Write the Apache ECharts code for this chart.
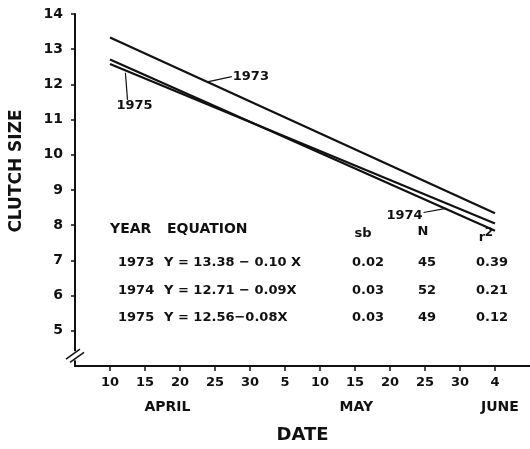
<!DOCTYPE html>
<html>
<head>
<meta charset="utf-8">
<script src="https://cdn.jsdelivr.net/npm/echarts@6/dist/echarts.min.js"></script>
<style>
  html, body { margin: 0; padding: 0; background: #fff; }
  #chart { width: 530px; height: 449px; }
</style>
</head>
<body>
<div id="chart"></div>
<script>
const chart = echarts.init(document.getElementById('chart'));
const font = 'DejaVu Sans';
const ink = '#111';

// Days counted from 10 April
const lineDays = [0, 55];
const clutch1973 = [13.33, 8.34];
const clutch1974 = [12.71, 7.84];
const clutch1975 = [12.58, 8.05];

const tickDays = [0, 5, 10, 15, 20, 25, 30, 35, 40, 45, 50, 55];
const tickLabels = ['10', '15', '20', '25', '30', '5', '10', '15', '20', '25', '30', '4'];
const monthNames = ['APRIL', 'MAY', 'JUNE'];
const monthDays = [8.2, 35.2, 55.7];
const yTicks = [5, 6, 7, 8, 9, 10, 11, 12, 13, 14];

// Regression table printed inside the plot
const tableYears = ['1973', '1974', '1975'];
const tableEquations = ['Y = 13.38 \u2212 0.10 X', 'Y = 12.71 \u2212 0.09X', 'Y = 12.56\u22120.08X'];
const tableSb = ['0.02', '0.03', '0.03'];
const tableN = ['45', '52', '49'];
const tableR2 = ['0.39', '0.21', '0.12'];

// Leader lines for the year labels, in data units [day, clutch]
const leader1973 = [[13.9, 12.07], [17.4, 12.22]];
const leader1974 = [[48.0, 8.48], [44.8, 8.36]];
const leader1975 = [[2.2, 12.33], [2.5, 11.56]];

function toXY(days, values) {
  return days.map((d, i) => [d, values[i]]);
}

function leader(points, name, pos) {
  return {
    silent: true,
    symbol: 'none',
    animation: false,
    lineStyle: { color: ink, width: 1.2, type: 'solid' },
    label: {
      show: true,
      position: 'end',
      distance: 1,
      formatter: name,
      color: ink,
      fontFamily: font,
      fontWeight: 'bold',
      fontSize: 13,
      ...pos
    },
    data: [[{ coord: points[0] }, { coord: points[1] }]]
  };
}

function lineSeries(name, values, markLine) {
  return {
    name: name,
    type: 'line',
    data: toXY(lineDays, values),
    showSymbol: false,
    silent: true,
    animation: false,
    lineStyle: { color: ink, width: 2.2 },
    markLine: markLine
  };
}

const textStyle = { fontFamily: font, fontWeight: 'bold', fontSize: 13, fill: ink };

function tableText(text, x, y, align, size) {
  return {
    type: 'text',
    x: x,
    y: y,
    style: { ...textStyle, fontSize: size || 13, text: text, align: align || 'left', verticalAlign: 'middle' }
  };
}

const tableRowsY = [263, 291, 318];
const tableGraphics = [
  tableText('YEAR', 110, 229, 'left', 14),
  tableText('EQUATION', 167, 229, 'left', 14),
  tableText('sb', 363, 234, 'center'),
  tableText('N', 423, 232, 'center'),
  tableText('r', 482, 238, 'center'),
  tableText('2', 489, 233, 'center', 12)
];
tableYears.forEach((year, i) => {
  const y = tableRowsY[i];
  tableGraphics.push(tableText(year, 118, y));
  tableGraphics.push(tableText(tableEquations[i], 164, y));
  tableGraphics.push(tableText(tableSb[i], 368, y, 'center'));
  tableGraphics.push(tableText(tableN[i], 427, y, 'center'));
  tableGraphics.push(tableText(tableR2[i], 492, y, 'center'));
});

chart.setOption({
  backgroundColor: '#fff',
  animation: false,
  grid: { left: 75, right: -2, top: 14, bottom: 83 },
  xAxis: [
    {
      type: 'value',
      min: -5,
      max: 60,
      interval: 5,
      splitLine: { show: false },
      axisLine: { onZero: false, lineStyle: { color: ink, width: 2 } },
      axisTick: { customValues: tickDays, length: 5, lineStyle: { color: ink, width: 1.5 } },
      axisLabel: {
        customValues: tickDays,
        margin: 10,
        color: ink,
        fontFamily: font,
        fontWeight: 'bold',
        fontSize: 13,
        formatter: (v) => tickLabels[tickDays.indexOf(v)]
      },
      name: 'DATE',
      nameLocation: 'middle',
      nameGap: 60,
      nameTextStyle: { color: ink, fontFamily: font, fontWeight: 'bold', fontSize: 18 }
    },
    {
      type: 'value',
      position: 'bottom',
      offset: 28,
      min: -5,
      max: 60,
      splitLine: { show: false },
      axisLine: { show: false },
      axisTick: { show: false },
      axisLabel: {
        customValues: monthDays,
        margin: 6,
        color: ink,
        fontFamily: font,
        fontWeight: 'bold',
        fontSize: 14,
        formatter: (v) => monthNames[monthDays.indexOf(v)]
      }
    }
  ],
  yAxis: {
    type: 'value',
    min: 4,
    max: 14,
    interval: 1,
    splitLine: { show: false },
    axisLine: { show: true, onZero: false, lineStyle: { color: ink, width: 2 } },
    axisTick: { show: true, customValues: yTicks, length: 4, lineStyle: { color: ink, width: 1.5 } },
    axisLabel: {
      customValues: yTicks,
      margin: 12,
      color: ink,
      fontFamily: font,
      fontWeight: 'bold',
      fontSize: 14
    }
  },
  series: [
    lineSeries('1973', clutch1973, leader(leader1973, '1973', { align: 'left', verticalAlign: 'middle' })),
    lineSeries('1974', clutch1974, leader(leader1974, '1974', { align: 'right', verticalAlign: 'middle', offset: [0, 3] })),
    lineSeries('1975', clutch1975, leader(leader1975, '1975', { align: 'center', verticalAlign: 'top', offset: [7, -2] }))
  ]
});

// Axis break marks near the bottom of the y axis, plus the y title and table
const breakTop = chart.convertToPixel({ gridIndex: 0 }, [-5, 4.42]);
const breakBottom = chart.convertToPixel({ gridIndex: 0 }, [-5, 4.16]);
const bx = breakTop[0];
chart.setOption({
  graphic: [
    {
      type: 'rect',
      shape: { x: bx - 4, y: breakTop[1], width: 8, height: breakBottom[1] - breakTop[1] },
      style: { fill: '#fff' },
      z: 100
    },
    {
      type: 'line',
      shape: { x1: bx - 9, y1: breakTop[1] + 8, x2: bx + 5, y2: breakTop[1] - 2 },
      style: { stroke: ink, lineWidth: 1.5 },
      z: 101
    },
    {
      type: 'line',
      shape: { x1: bx - 5, y1: breakBottom[1] + 2, x2: bx + 9, y2: breakBottom[1] - 8 },
      style: { stroke: ink, lineWidth: 1.5 },
      z: 101
    },
    {
      type: 'text',
      x: 17,
      y: 171,
      rotation: Math.PI / 2,
      style: { ...textStyle, fontSize: 17, text: 'CLUTCH SIZE', align: 'center', verticalAlign: 'middle' }
    },
    ...tableGraphics
  ]
});
</script>
</body>
</html>
